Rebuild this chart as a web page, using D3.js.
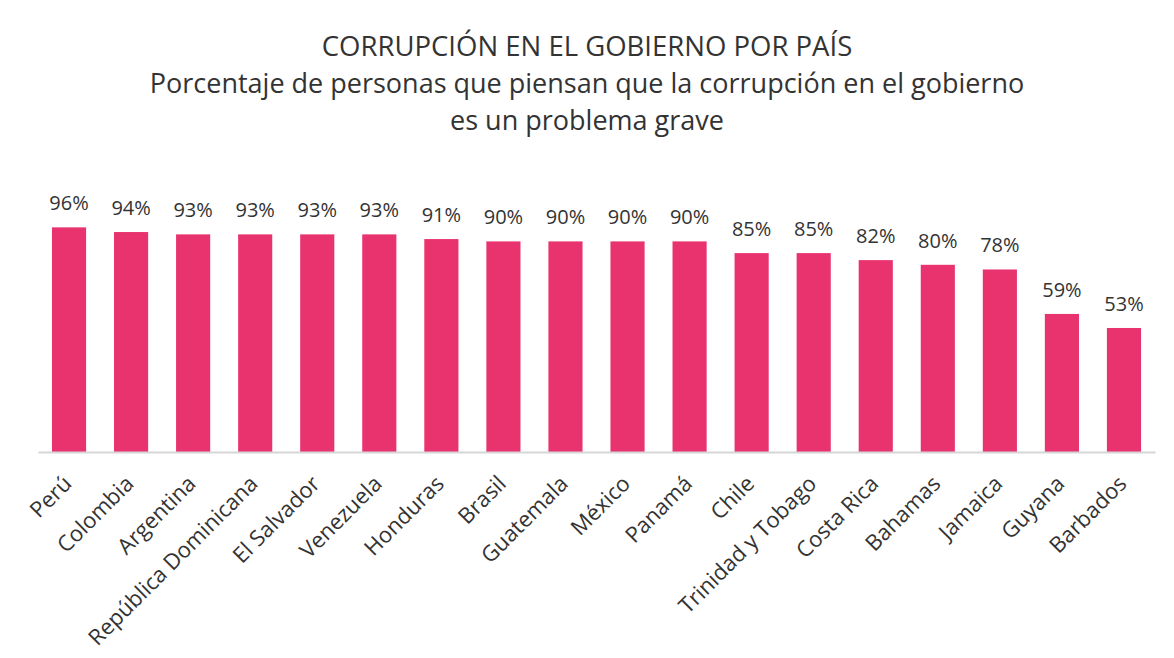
<!DOCTYPE html>
<html>
<head>
<meta charset="utf-8">
<script src="https://cdn.jsdelivr.net/npm/d3@7"></script>
<style>
  html, body { margin: 0; padding: 0; background: #ffffff; }
  svg { display: block; }
  text { font-family: "Open Sans", "Noto Sans", sans-serif; fill: #333333; }
</style>
</head>
<body>
<svg id="chart" width="1174" height="658"></svg>
<script>
// Countries, in the order they are plotted
const countries = [
  "Perú", "Colombia", "Argentina", "República Dominicana", "El Salvador",
  "Venezuela", "Honduras", "Brasil", "Guatemala", "México", "Panamá",
  "Chile", "Trinidad y Tobago", "Costa Rica", "Bahamas", "Jamaica",
  "Guyana", "Barbados"
];
// Share of people who consider government corruption a serious problem (%)
const values = [96, 94, 93, 93, 93, 93, 91, 90, 90, 90, 90, 85, 85, 82, 80, 78, 59, 53];

const titleLines = [
  "CORRUPCIÓN EN EL GOBIERNO POR PAÍS",
  "Porcentaje de personas que piensan que la corrupción en el gobierno",
  "es un problema grave"
];

const W = 1174, H = 658;
const plot = { left: 38, right: 1155, baseline: 452, top: 218 };

const svg = d3.select("#chart");

const x = d3.scaleBand()
  .domain(countries)
  .range([plot.left, plot.right])
  .paddingInner(0.45)
  .paddingOuter(0.225);

const y = d3.scaleLinear()
  .domain([0, 100])
  .range([plot.baseline, plot.top]);

// Title block, one line per text
svg.append("g")
  .attr("class", "title")
  .selectAll("text")
  .data(titleLines)
  .join("text")
  .attr("x", 587)
  .attr("y", (d, i) => 56 + i * 37)
  .attr("text-anchor", "middle")
  .style("font-size", (d, i) => i === 0 ? "27.5px" : "27px")
  .text(d => d);

const data = countries.map((c, i) => ({ country: c, value: values[i] }));

// Bars
svg.append("g")
  .selectAll("rect")
  .data(data)
  .join("rect")
  .attr("x", d => x(d.country))
  .attr("width", x.bandwidth())
  .attr("y", d => y(d.value))
  .attr("height", d => y(0) - y(d.value))
  .attr("fill", "#e8336f");

// Value labels
svg.append("g")
  .selectAll("text")
  .data(data)
  .join("text")
  .attr("x", d => x(d.country) + x.bandwidth() / 2)
  .attr("y", d => y(d.value) - 17)
  .attr("text-anchor", "middle")
  .style("font-size", "20px")
  .text(d => d.value + "%");

// Category axis
const axis = svg.append("g")
  .attr("transform", `translate(0,${plot.baseline})`)
  .call(d3.axisBottom(x).tickSize(0).tickSizeOuter(0));

axis.select(".domain")
  .attr("stroke", "#d6d6d6")
  .attr("stroke-width", 2);

axis.selectAll(".tick text")
  .attr("text-anchor", "end")
  .attr("fill", "#333333")
  .style("font-family", "\"Open Sans\", \"Noto Sans\", sans-serif")
  .style("font-size", "22px")
  .attr("x", 0)
  .attr("y", 0)
  .attr("dy", "0.71em")
  .attr("transform", "translate(-7,22) rotate(-45)");
</script>
</body>
</html>
